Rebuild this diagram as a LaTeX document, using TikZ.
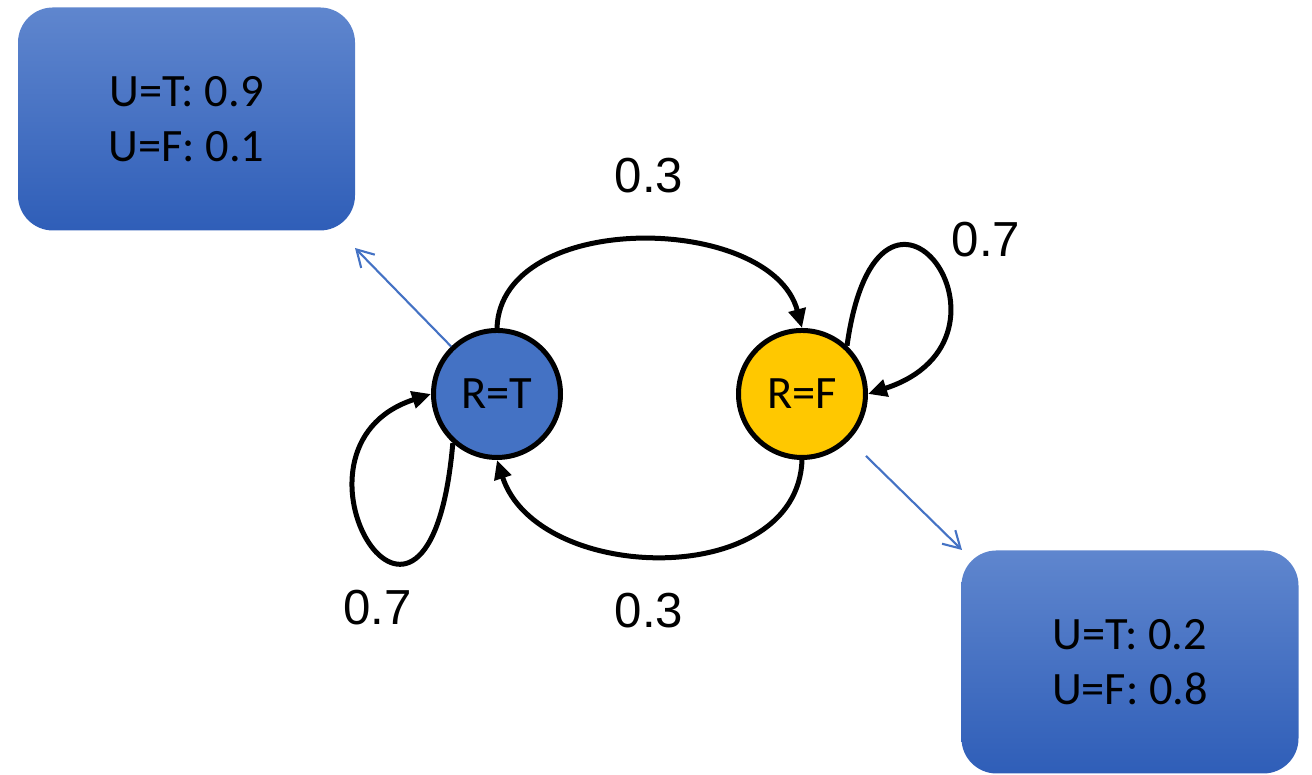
\documentclass[tikz,border=0pt]{standalone}
\usepackage{fontspec}
\setmainfont{Carlito}
\newfontfamily\arialfont{Liberation Sans}
\usepackage{tikz}
\usetikzlibrary{arrows.meta,positioning}
\definecolor{stateblue}{HTML}{4472C4}
\definecolor{stategold}{HTML}{FFC800}
\definecolor{boxtop}{HTML}{5F86CE}
\definecolor{boxbottom}{HTML}{2F5EB8}
\tikzset{
  >={Triangle[length=0.19cm,width=0.17cm]},
  state/.style={circle, draw=black, line width=0.05cm, minimum size=1.27cm, inner sep=0pt,
                font=\fontsize{13.2}{15.8}\selectfont},
  emission/.style={rectangle, rounded corners=0.35cm, top color=boxtop, bottom color=boxbottom,
                   minimum width=3.37cm, minimum height=2.23cm, align=center,
                   font=\fontsize{13.2}{15.6}\selectfont},
  trans/.style={->, line width=0.05cm},
  emit/.style={-{Straight Barb[length=0.165cm,width=0.19cm]}, draw=stateblue, line width=0.6pt},
  prob/.style={font=\arialfont\fontsize{14}{16.8}\selectfont}
}

\begin{document}
\begin{tikzpicture}
    \useasboundingbox (0,0) rectangle (13.12,7.75);
    % States
    \node[state, fill=stateblue] (rt) at (4.97,3.81) {R=T};
    \node[state, fill=stategold, right=1.73cm of rt] (rf) {R=F};
    % Emission tables
    \node[emission] (ut) at (1.865,6.56) {U=T: 0.9\\U=F: 0.1};
    \node[emission] (uf) at (11.30,1.13) {U=T: 0.2\\U=F: 0.8};
    \coordinate (uttip) at (3.55,5.27);
    \coordinate (uftip) at (9.62,2.25);
    \draw[emit] (rt.134) -- (uttip);
    \draw[emit, shorten <=0.23cm] (rf.-44) -- (uftip);
    % Transitions
    \draw[trans] (rt.north) to[out=88,in=105,looseness=1.0] (rf.north);
    \draw[trans] (rf.south) to[out=-92,in=-72,looseness=1.1] (rt.south);
    \draw[trans] (rf.47) .. controls +(82:2.3) and +(18:1.8) .. (rf.east);
    \draw[trans] (rt.228) .. controls +(265:2.75) and +(198:1.75) .. (rt.west);
    \node[prob] (ptop) at (6.49,5.99) {0.3};
    \node[prob] (pbot) at (6.49,1.64) {0.3};
    \node[prob] (pfloop) at (9.86,5.35) {0.7};
    \node[prob] (ptloop) at (3.775,1.67) {0.7};
\end{tikzpicture}
\end{document}
